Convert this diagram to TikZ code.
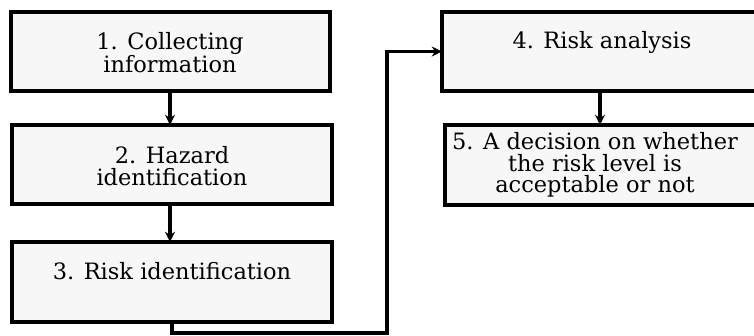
\documentclass[tikz,border=0pt]{standalone}
\usepackage{fontspec}
\setmainfont{DejaVu Serif}
\usetikzlibrary{arrows.meta}
\begin{document}
\begin{tikzpicture}[x=1pt,y=-1pt,
  stepbox/.style={draw=black, line width=3.2pt, fill=black!3, rectangle, inner sep=0pt},
  lbl/.style={align=center, font=\fontsize{22.5}{21.5}\selectfont, inner sep=0pt},
  conn/.style={line width=3.6pt, -{Stealth[length=10pt,width=10pt]}}]
\useasboundingbox (0,0) rectangle (754,336);
\fill[white] (0,0) rectangle (754,336);
\begin{scope}
\clip (0,0) rectangle (754,336);
\draw[stepbox] (11,12) rectangle (330,91);
\draw[stepbox] (12,125) rectangle (332,204);
\draw[stepbox] (12,242) rectangle (332,322);
\draw[stepbox] (442,12) rectangle (770,91);
\draw[stepbox] (445,125) rectangle (770,205);
\end{scope}
\path (11,12) rectangle (330,91) node[pos=0.5, inner sep=0pt, minimum width=319pt, minimum height=79pt] (b1) {};
\path (12,125) rectangle (332,204) node[pos=0.5, inner sep=0pt, minimum width=320pt, minimum height=79pt] (b2) {};
\path (12,242) rectangle (332,322) node[pos=0.5, inner sep=0pt, minimum width=320pt, minimum height=80pt] (b3) {};
\path (442,12) rectangle (758,91) node[pos=0.5, inner sep=0pt, minimum width=316pt, minimum height=79pt] (b4) {};
\path (445,125) rectangle (755,205) node[pos=0.5, inner sep=0pt, minimum width=310pt, minimum height=80pt] (b5) {};
\node[lbl] (t1) at (170,53) {1. Collecting\\information};
\node[lbl] (t2) at (172,166) {2. Hazard\\identification};
\node[lbl] (t3) at (172,271) {3. Risk identification};
\node[lbl] (t4) at (602,42) {4. Risk analysis};
\node[lbl] (t5) at (595,165) {5. A decision on whether\\the risk level is\\acceptable or not};
\coordinate (c1) at (387,333);
\draw[conn] (b1.south -| 170,0) -- (b2.north -| 170,0);
\draw[conn] (b2.south -| 170,0) -- (b3.north -| 170,0);
\draw[conn] (b4.south -| 600,0) -- (b5.north -| 600,0);
\draw[conn] (b3.south -| 172,0) |- (c1) |- (b4.west);
\end{tikzpicture}
\end{document}
